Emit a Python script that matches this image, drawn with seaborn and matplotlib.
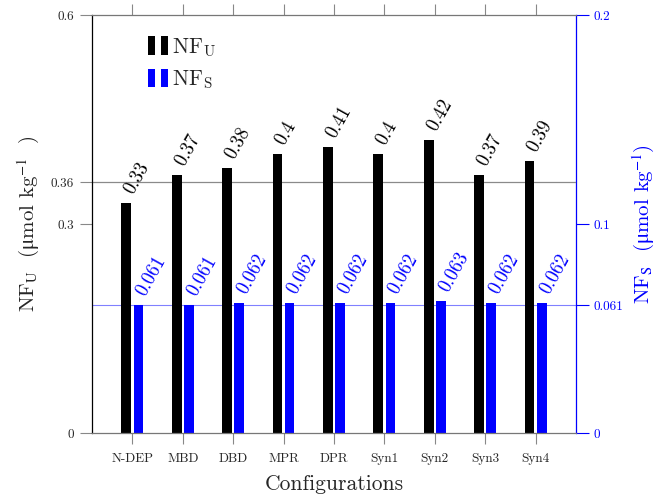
import matplotlib
matplotlib.use("Agg")
import matplotlib.pyplot as plt
import pandas as pd
import seaborn as sns
from matplotlib.patches import Rectangle
from matplotlib.legend_handler import HandlerBase

configs = ["N-DEP", "MBD", "DBD", "MPR", "DPR", "Syn1", "Syn2", "Syn3", "Syn4"]
nf_u = [0.33, 0.37, 0.38, 0.4, 0.41, 0.4, 0.42, 0.37, 0.39]
nf_s = [0.061, 0.061, 0.062, 0.062, 0.062, 0.062, 0.063, 0.062, 0.062]
left_ticks = [0, 0.3, 0.36, 0.6]
left_labels = ["0", "0.3", "0.36", "0.6"]
right_ticks = [0, 0.061, 0.1, 0.2]
right_labels = ["0", "0.061", "0.1", "0.2"]
series = ["U", "S"]
colors = {"U": "black", "S": "blue"}

sns.set_style("ticks")
plt.rcParams["font.family"] = ["cmr10", "DejaVu Serif"]
plt.rcParams["mathtext.fontset"] = "cm"
plt.rcParams["axes.unicode_minus"] = False
plt.rcParams["axes.formatter.use_mathtext"] = True

df_u = pd.DataFrame({"config": configs, "value": nf_u, "series": "U"})
df_s = pd.DataFrame({"config": configs, "value": nf_s, "series": "S"})

fig = plt.figure(figsize=(6.62, 4.95), dpi=100, facecolor="white")
ax = fig.add_axes([0.139, 0.1253, 0.731, 0.8444])
ax2 = ax.twinx()
ax2.set_zorder(ax.get_zorder() - 1)
ax.patch.set_visible(False)

common = dict(x="config", y="value", hue="series", hue_order=series,
              order=configs, palette=colors, dodge=True, width=0.48,
              gap=0.2, errorbar=None, legend=False, saturation=1,
              linewidth=0)
sns.barplot(data=df_u, ax=ax, **common)
sns.barplot(data=df_s, ax=ax2, **common)

ax.set_xlim(-0.8, 8.8)
ax.set_ylim(0, 0.6)
ax2.set_ylim(0, 0.2)

# reference lines
ax.axhline(0.36, color="#8a8a8a", lw=0.9, zorder=0.5)
ax2.axhline(0.061, color="#8080ff", lw=0.8, zorder=0.5)

# value labels on top of each bar
for axis, vals, col in ((ax, nf_u, "black"), (ax2, nf_s, "blue")):
    bars = [p for p in axis.patches if p.get_height() > 0]
    for p, v in zip(bars, vals):
        axis.annotate(f"{v:g}", xy=(p.get_x() + p.get_width() / 2, p.get_height()),
                      xytext=(2, 7.5), textcoords="offset points", rotation=61,
                      ha="left", va="center", rotation_mode="anchor",
                      fontsize=13.5, color=col)

# axes styling
ax.set_yticks(left_ticks, left_labels)
ax2.set_yticks(right_ticks, right_labels)
ax.set_xticks(range(len(configs)), configs)
ax.tick_params(axis="y", direction="out", length=9, width=0.8,
               color="#888888", labelsize=9.5, pad=4)
ax.tick_params(axis="x", direction="out", length=8, width=0.8,
               color="#888888", labelsize=9.5, pad=6, top=True)
ax2.tick_params(axis="y", direction="out", length=9, width=0.8,
                color="blue", labelcolor="blue", labelsize=9.5, pad=4)
for s in ("top", "bottom"):
    ax.spines[s].set_color("#777777")
    ax.spines[s].set_linewidth(0.9)
ax.spines["left"].set_color("black")
ax.spines["left"].set_linewidth(0.9)
ax.spines["right"].set_visible(False)
for s in ("left", "top", "bottom"):
    ax2.spines[s].set_visible(False)
ax2.spines["right"].set_color("blue")
ax2.spines["right"].set_linewidth(0.9)

ax.set_xlabel("Configurations", fontsize=15.5, labelpad=7)
ax.set_ylabel(r"NF$_\mathrm{U}$  ($\mathrm{\mu}$mol kg$^{-1}$  )", fontsize=15,
              math_fontfamily="stix")
ax.yaxis.set_label_coords(-0.105, 0.5)
ax2.set_ylabel(r"NF$_\mathrm{S}$  ($\mathrm{\mu}$mol kg$^{-1}$)", fontsize=15,
               color="blue", math_fontfamily="stix")
ax2.yaxis.set_label_coords(1.112, 0.5)


class TwinBarHandler(HandlerBase):
    def create_artists(self, legend, orig_handle, xdescent, ydescent,
                       width, height, fontsize, trans):
        col = orig_handle.get_facecolor()
        w = width * 0.34
        h = height * 1.2
        y0 = -ydescent - 0.1 * height
        r1 = Rectangle((-xdescent, y0), w, h, facecolor=col, edgecolor="none",
                       transform=trans)
        r2 = Rectangle((-xdescent + width - w, y0), w, h, facecolor=col,
                       edgecolor="none", transform=trans)
        return [r1, r2]


handles = [Rectangle((0, 0), 1, 1, facecolor=colors[s]) for s in series]
ax.legend(handles, ["NF$_\\mathrm{U}$", "NF$_\\mathrm{S}$"],
          handler_map={Rectangle: TwinBarHandler()}, loc="upper left",
          bbox_to_anchor=(0.094, 0.975), frameon=False, fontsize=15.5,
          handlelength=0.9, handleheight=0.72, handletextpad=0.2,
          labelspacing=0.45, borderpad=0)

fig.savefig("out.png", dpi=100, facecolor="white")
